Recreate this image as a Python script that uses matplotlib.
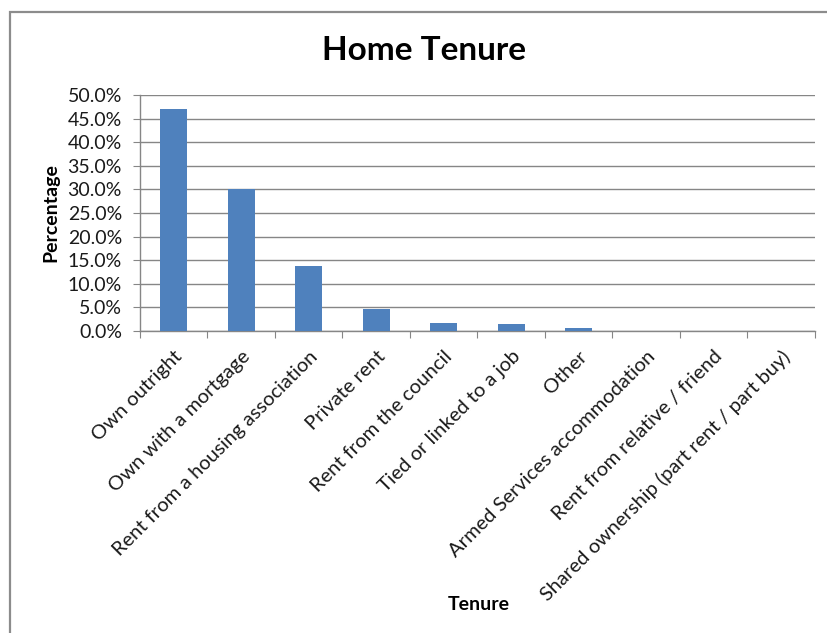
import numpy as np
import matplotlib.pyplot as plt
from matplotlib.patches import Rectangle
from matplotlib.ticker import FuncFormatter, MultipleLocator

plt.rcParams['font.family'] = ['Lato', 'DejaVu Sans']

# Share of households by tenure (%)
tenures = [
    "Own outright",
    "Own with a mortgage",
    "Rent from a housing association",
    "Private rent",
    "Rent from the council",
    "Tied or linked to a job",
    "Other",
    "Armed Services accommodation",
    "Rent from relative / friend",
    "Shared ownership (part rent / part buy)",
]
percentages = [47.1, 30.0, 13.7, 4.6, 1.8, 1.4, 0.6, 0.0, 0.0, 0.0]

BAR_BLUE = '#4F81BD'
GRID_GREY = '#868686'
TEXT = '#1a1a1a'

fig = plt.figure(figsize=(8.28, 6.33), dpi=100, facecolor='white')

# chart-area frame (only its top and left edges fall inside the canvas)
fig.patches.append(Rectangle((9.5 / 828, -0.1), 1.2, 1.1 - 12.5 / 633,
                             transform=fig.transFigure, fill=False,
                             edgecolor='#8C8C8C', linewidth=1.6))

ax = fig.add_axes([140 / 828, 1 - 331 / 633, 675 / 828, 236 / 633])
x = np.arange(len(tenures))
ax.bar(x, percentages, width=0.4, color=BAR_BLUE, zorder=3)

ax.set_xlim(-0.5, len(tenures) - 0.5)
ax.set_ylim(0, 50)
ax.yaxis.set_major_locator(MultipleLocator(5))
ax.yaxis.set_major_formatter(FuncFormatter(lambda v, _: f"{v:.1f}%"))
ax.grid(axis='y', color=GRID_GREY, linewidth=1.0, zorder=0)

# category ticks sit on the boundaries between bars
ax.set_xticks(np.arange(len(tenures) + 1) - 0.5, minor=False)
ax.set_xticklabels([])
ax.set_xticks(x, minor=True)
ax.set_xticklabels(tenures, minor=True, rotation=45, ha='right',
                   rotation_mode='anchor', fontsize=14.5, color=TEXT)
ax.tick_params(axis='x', which='minor', length=0, pad=12)
ax.tick_params(axis='x', which='major', length=5, color=GRID_GREY, direction='out')
ax.tick_params(axis='y', length=5, color=GRID_GREY, labelsize=14,
               labelcolor=TEXT, pad=8)

for side in ('top', 'right'):
    ax.spines[side].set_visible(False)
for side in ('left', 'bottom'):
    ax.spines[side].set_color(GRID_GREY)
    ax.spines[side].set_linewidth(1.0)

fig.text(424 / 828, 1 - 50 / 633, "Home Tenure", ha='center', va='center',
         fontsize=24, fontweight='bold')
fig.text(51 / 828, 1 - 213 / 633, "Percentage", ha='center', va='center',
         rotation=90, fontsize=14, fontweight='bold')
fig.text(479 / 828, 1 - 604 / 633, "Tenure", ha='center', va='center',
         fontsize=14, fontweight='bold')

fig.savefig('out.png', dpi=100, facecolor='white')
